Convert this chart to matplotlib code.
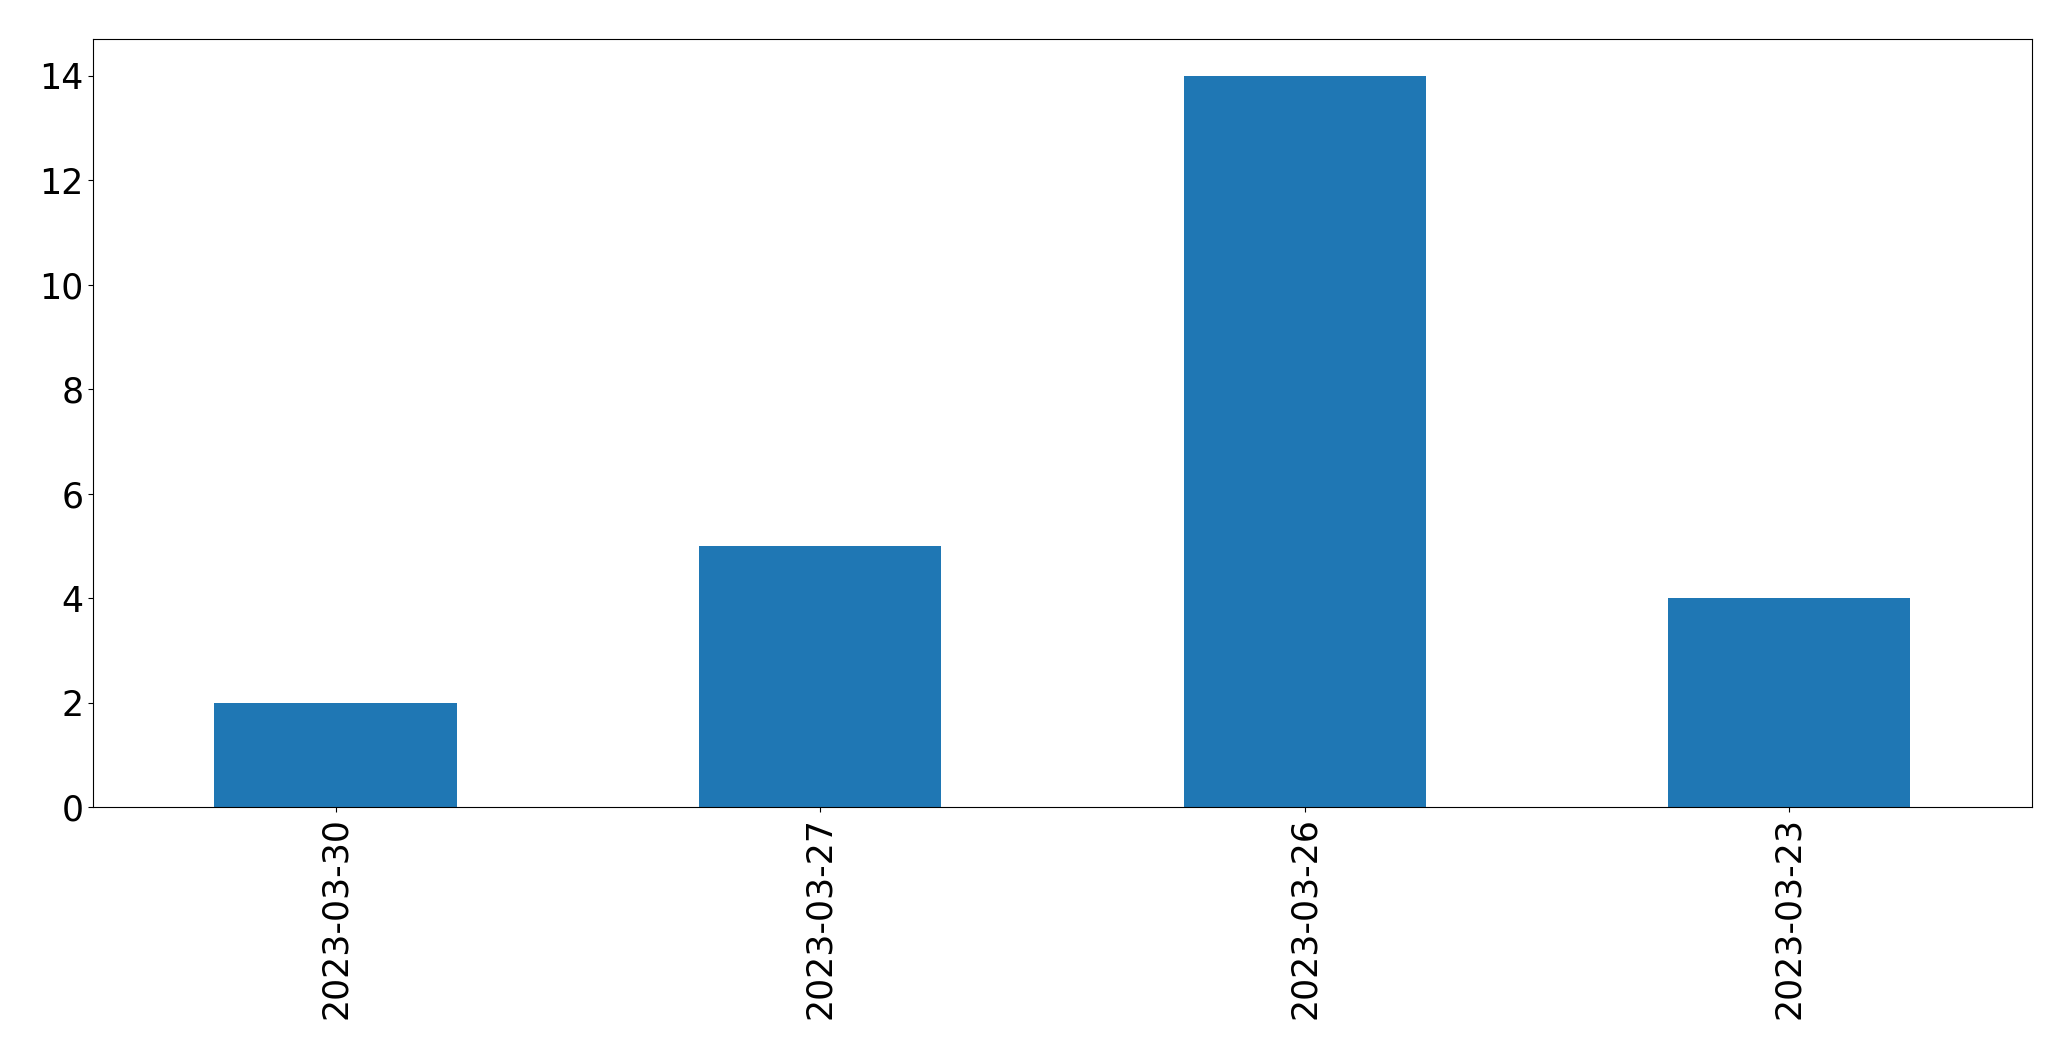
import pandas as pd
import matplotlib
matplotlib.use("Agg")
from matplotlib import pyplot as plt

dates = ["2023-03-30", "2023-03-27", "2023-03-26", "2023-03-23"]
counts = [2, 5, 14, 4]

s = pd.Series(counts, index=dates)

fig = plt.figure(figsize=(20.71, 10.61), dpi=100)
ax = fig.add_axes([0.045, 0.239, 0.936, 0.724])
s.plot(kind="bar", ax=ax, color="#1f77b4", rot=90, fontsize=25)
ax.set_yticks(range(0, 15, 2))

fig.savefig("out.png", dpi=100)
